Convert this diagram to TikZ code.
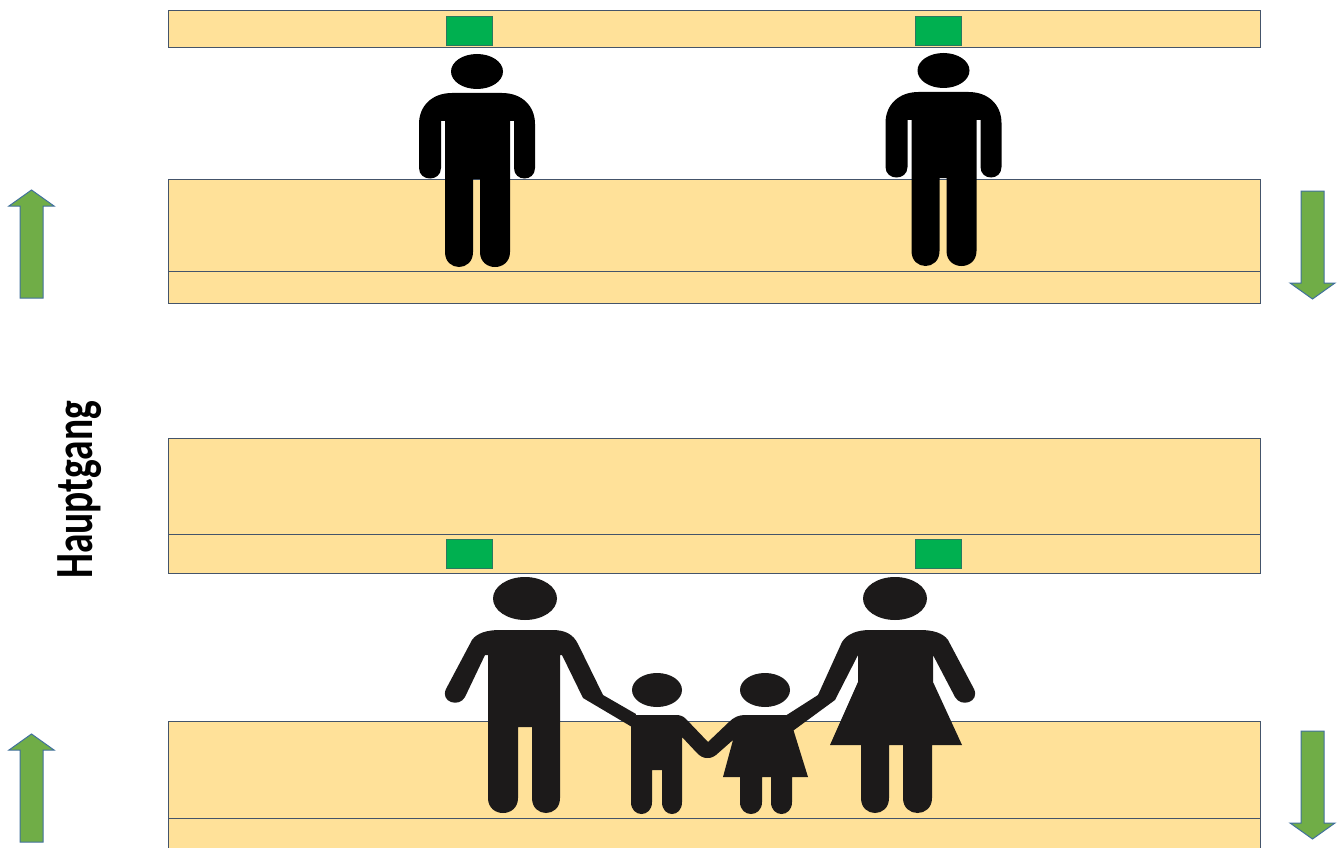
\documentclass[tikz,border=0pt]{standalone}
\usepackage{fontspec}
\usepackage{graphicx}
\setmainfont{Carlito}
\definecolor{band}{HTML}{FFE199}
\definecolor{bandline}{HTML}{44546A}
\definecolor{door}{HTML}{00B050}
\definecolor{arrowfill}{HTML}{70AD47}
\definecolor{arrowline}{HTML}{41719C}
\definecolor{famblack}{HTML}{1C1A1A}
\tikzset{
  bandbox/.style={fill=band,draw=bandline,line width=1pt},
  doorbox/.style={fill=door,draw=bandline!60!door,line width=.8pt},
  flow/.style={fill=arrowfill,draw=arrowline,line width=1pt,line join=miter},
  walltext/.style={font=\bfseries\fontsize{39.5}{40}\selectfont,rotate=90,text=black,inner sep=0pt}
}
\begin{document}
\begin{tikzpicture}[x=1pt,y=-1pt]
\clip (0,0) rectangle (1344,848);
\fill[white] (0,0) rectangle (1344,848);
% bands
\draw[bandbox] (168,11) rectangle (1260,48);
\draw[bandbox] (168,179) rectangle (1260,303);
\draw[bandbox] (168,271) -- (1260,271);
\draw[bandbox] (168,438) rectangle (1260,573);
\draw[bandbox] (168,534) -- (1260,534);
\draw[bandbox] (168,721) rectangle (1260,860);
\draw[bandbox] (168,818) -- (1260,818);
% green doors
\draw[doorbox] (446,16) rectangle (492,45);
\draw[doorbox] (915,16) rectangle (961,45);
\draw[doorbox] (446,539) rectangle (492,568);
\draw[doorbox] (915,539) rectangle (961,568);
% arrows
\draw[flow] (20,298) -- (20,206) -- (9,206) -- (31.5,190) -- (54,206) -- (43,206) -- (43,298) -- cycle;
\draw[flow] (20,842) -- (20,750) -- (9,750) -- (31.5,734) -- (54,750) -- (43,750) -- (43,842) -- cycle;
\draw[flow] (1301,191) -- (1324,191) -- (1324,283) -- (1335,283) -- (1312.5,299) -- (1290,283) -- (1301,283) -- cycle;
\draw[flow] (1301,731) -- (1324,731) -- (1324,823) -- (1335,823) -- (1312.5,839) -- (1290,823) -- (1301,823) -- cycle;
% label
\node[walltext] (hauptgang) at (79.5,490) {\scalebox{1}[1.36]{Hauptgang}};
% single men
\foreach \dx/\dy in {0/0,466.5/-1}{
\begin{scope}[shift={(\dx,\dy)}]
\fill[black] (477,71.5) ellipse [x radius=26,y radius=17.5];
\fill[black] (452,93) -- (502,93)
  .. controls (522,93) and (535,106) .. (535,124) -- (535,168)
  .. controls (535,182) and (514,182) .. (514,168) -- (514,121) -- (510,121) -- (510,252)
  .. controls (510,272) and (480,272) .. (480,252) -- (480,179) -- (473,179) -- (473,252)
  .. controls (473,272) and (445,272) .. (445,252) -- (445,121) -- (441,121) -- (441,168)
  .. controls (441,182) and (419,182) .. (419,168) -- (419,124)
  .. controls (419,106) and (432,93) .. (452,93) -- cycle;
\end{scope}
}
% family
\begin{scope}[famblack,fill=famblack,draw=famblack]
% father
\fill (525,598.5) ellipse [x radius=32,y radius=21.5];
\fill (500,630) -- (552,630)
  .. controls (565,630) and (573,634) .. (578,644) -- (603,695) -- (636,714) -- (632,727) -- (583,698)
  -- (562,655) -- (560,655) -- (560,798)
  .. controls (560,818) and (532,818) .. (532,798) -- (532,727) -- (518,727) -- (518,798)
  .. controls (518,818) and (488,818) .. (488,798) -- (488,655) -- (485,655) -- (465,697)
  .. controls (459,708) and (440,702) .. (446,689) -- (472,640)
  .. controls (477,633) and (487,630) .. (500,630) -- cycle;
% boy
\fill (657,690) ellipse [x radius=25,y radius=17];
\fill (637,715) -- (676,715) .. controls (680,715) and (683,716) .. (686,719)
  -- (708,742) -- (718,750) -- (707,758) .. controls (703,758) and (700,756) .. (697,753)
  -- (682,737) -- (682,802)
  .. controls (682,818) and (662,818) .. (662,802) -- (662,770) -- (652,770) -- (652,802)
  .. controls (652,818) and (631,818) .. (631,802) -- (631,721) .. controls (631,717) and (633,715) .. (637,715) -- cycle;
% girl
\fill (765,690) ellipse [x radius=25,y radius=17];
\fill (745,715) -- (786,715) -- (790,719) -- (808,777) -- (792,777) -- (792,802)
  .. controls (792,818) and (771,818) .. (771,802) -- (771,777) -- (762,777) -- (762,802)
  .. controls (762,818) and (740,818) .. (740,802) -- (740,777) -- (723,777) -- (733,740)
  -- (716,755) .. controls (712,758) and (708,759) .. (704,757) -- (700,745) -- (708,742) -- (729,722)
  .. controls (734,717) and (739,715) .. (745,715) -- cycle;
% mother
\fill (895,598.5) ellipse [x radius=32,y radius=21.5];
\fill (870,630) -- (920,630)
  .. controls (933,630) and (943,633) .. (948,640) -- (974,689)
  .. controls (980,702) and (961,708) .. (955,697) -- (933,655) -- (933,682) -- (962,745)
  -- (932,745) -- (932,798) .. controls (932,818) and (903,818) .. (903,798) -- (903,745)
  -- (889,745) -- (889,798) .. controls (889,818) and (861,818) .. (861,798) -- (861,745)
  -- (830,745) -- (858,682) -- (858,655) -- (835,700) -- (790,733) -- (782,718) -- (818,695)
  -- (842,642) .. controls (847,634) and (857,630) .. (870,630) -- cycle;
\end{scope}
\end{tikzpicture}
\end{document}
